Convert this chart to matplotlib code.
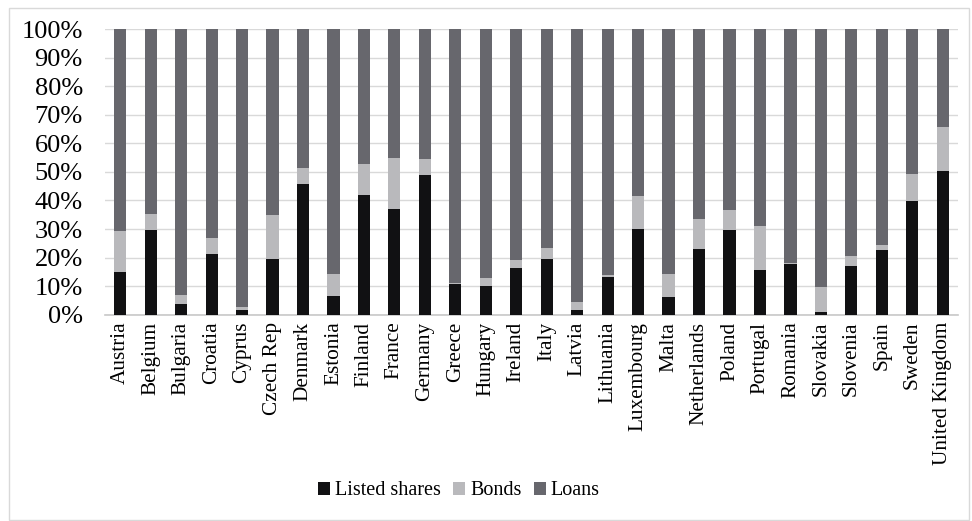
import matplotlib.pyplot as plt
import matplotlib.patches as patches
import numpy as np
from matplotlib.ticker import FuncFormatter

countries = ["Austria", "Belgium", "Bulgaria", "Croatia", "Cyprus", "Czech Rep",
             "Denmark", "Estonia", "Finland", "France", "Germany", "Greece",
             "Hungary", "Ireland", "Italy", "Latvia", "Lithuania", "Luxembourg",
             "Malta", "Netherlands", "Poland", "Portugal", "Romania", "Slovakia",
             "Slovenia", "Spain", "Sweden", "United Kingdom"]

# shares of total financing, in %
listed_shares = np.array([15.0, 29.6, 3.6, 21.1, 1.6, 19.6, 45.6, 6.5, 41.8, 37.1,
                          48.8, 10.9, 9.9, 16.4, 19.4, 1.5, 13.2, 29.9, 6.1, 23.1,
                          29.6, 15.8, 17.9, 1.1, 17.1, 22.7, 39.7, 50.5])
bonds = np.array([14.2, 5.8, 3.2, 5.8, 1.0, 15.4, 5.8, 7.9, 11.1, 17.8,
                  5.8, 0.2, 3.1, 2.9, 3.8, 2.8, 0.6, 11.6, 8.0, 10.4,
                  7.2, 15.4, 0.1, 8.6, 3.5, 1.6, 9.4, 15.2])
loans = 100 - listed_shares - bonds

plt.rcParams['font.family'] = ['Liberation Serif', 'DejaVu Serif']

fig = plt.figure(figsize=(9.72, 5.21), dpi=100)
ax = fig.add_axes([0.108, 0.396, 0.8776, 0.548])

x = np.arange(len(countries))
w = 0.40
ax.bar(x, listed_shares, w, color="#111113", label="Listed shares", zorder=3)
ax.bar(x, bonds, w, bottom=listed_shares, color="#b9b9bc", label="Bonds", zorder=3)
ax.bar(x, loans, w, bottom=listed_shares + bonds, color="#67676d", label="Loans", zorder=3)

ax.set_xlim(-0.5, len(countries) - 0.5)
ax.set_ylim(0, 100)
ax.set_yticks(np.arange(0, 101, 10))
ax.yaxis.set_major_formatter(FuncFormatter(lambda v, p: f"{int(v)}%"))
ax.set_xticks(x)
ax.set_xticklabels(countries, rotation=90)
ax.tick_params(axis='y', length=0, pad=16, labelsize=19)
ax.tick_params(axis='x', length=0, pad=5, labelsize=15.3)
ax.grid(axis='y', color="#d9d9d9", linewidth=1, zorder=0)
for s in ["top", "right", "left"]:
    ax.spines[s].set_visible(False)
ax.spines["bottom"].set_color("#c8c8c8")
ax.spines["bottom"].set_linewidth(1.2)

fig.legend(loc="center", bbox_to_anchor=(0.472, 0.0576), ncol=3, frameon=False,
           fontsize=14.5, handlelength=0.6, handleheight=0.6, handletextpad=0.25,
           columnspacing=0.6)

fig.patches.append(patches.Rectangle((0.009, 0.002), 0.988, 0.983, transform=fig.transFigure,
                                     fill=False, edgecolor="#d9d9d9", linewidth=1))

fig.savefig("out.png", dpi=100)
